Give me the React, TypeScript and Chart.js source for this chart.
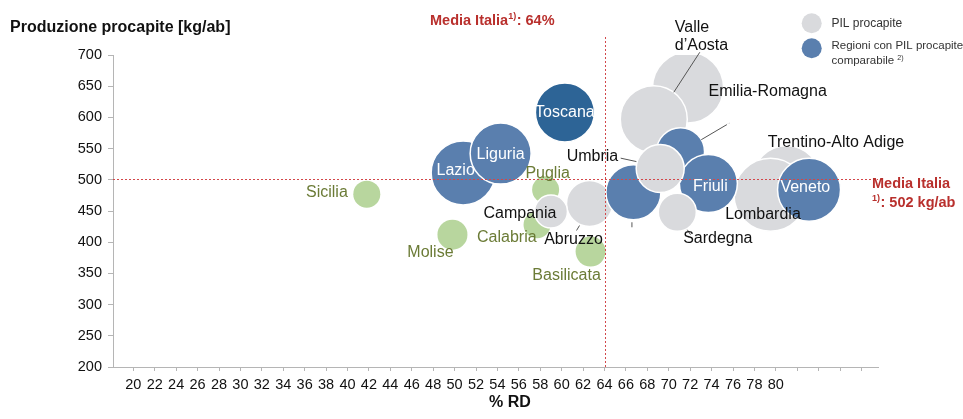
import React, { useEffect, useRef } from "react";
import { Chart, registerables } from "chart.js";

Chart.register(...registerables);

// ---------- DATA ----------
const regions = [
  "Sicilia", "Molise", "Calabria", "Puglia", "Basilicata",
  "Emilia-Romagna", "Valle d'Aosta", "Trentino-Alto Adige", "Lombardia",
  "Lazio", "Liguria", "Toscana", "Abruzzo", "Campania", "Piemonte",
  "Marche", "Friuli", "Umbria", "Sardegna", "Veneto",
];
// % raccolta differenziata
const rdPercent = [
  41.8, 49.8, 57.7, 58.5, 62.7,
  71.8, 68.6, 81.0, 79.5,
  50.8, 54.3, 60.3, 62.6, 59.0, 66.7,
  71.1, 73.7, 69.2, 70.8, 83.1,
];
// produzione procapite kg/ab
const kgPerInhabitant = [
  477, 412, 428, 484, 385,
  648, 597, 500, 476,
  511, 542, 608, 462, 449, 480,
  545, 494, 518, 448, 484,
];
// bubble size (PIL procapite)
const bubbleSize = [
  13.5, 15, 13.5, 13.5, 15,
  35.5, 33.5, 34, 36.5,
  32, 30.5, 29.5, 23, 16.5, 27.5,
  24, 29, 24, 19, 31.5,
];
// group: 0 = low RD (green), 1 = PIL procapite (grey), 2 = comparable (blue), 3 = Toscana
const regionGroup = [
  0, 0, 0, 0, 0,
  1, 1, 1, 1,
  2, 2, 3, 1, 1, 2,
  2, 2, 1, 1, 2,
];
const xTickValues = [20, 22, 24, 26, 28, 30, 32, 34, 36, 38, 40, 42, 44, 46, 48, 50, 52, 54, 56, 58, 60, 62, 64, 66, 68, 70, 72, 74, 76, 78, 80, 82, 84, 86, 88];
const xTickLabels = [20, 22, 24, 26, 28, 30, 32, 34, 36, 38, 40, 42, 44, 46, 48, 50, 52, 54, 56, 58, 60, 62, 64, 66, 68, 70, 72, 74, 76, 78, 80];
const yTickValues = [200, 250, 300, 350, 400, 450, 500, 550, 600, 650, 700];
const mediaRD = 64;
const mediaKg = 502;

// ---------- STYLE ----------
const FONT = "'Liberation Sans', Arial, Helvetica, sans-serif";
const RED = "#b9302d";
const LINE_RED = "#d2474a";
const GREY = "#d9dadd";
const BLUE = "#5a7fae";
const DARKBLUE = "#2d6496";
const GREEN = "#b8d69e";
const OLIVE = "#6b7b36";
const groupFill = [GREEN, GREY, BLUE, DARKBLUE];
const groupText = [OLIVE, "#111111", "#ffffff", "#ffffff"];

type LabelSpec = {
  dx: number; dy: number; align: CanvasTextAlign;
  lines?: string[]; lineGap?: number;
  leader?: [number, number, number, number];
};
const labelLayout: Record<string, LabelSpec> = {
  "Sicilia": { dx: -19, dy: -2, align: "right" },
  "Molise": { dx: -22, dy: 17.5, align: "center" },
  "Calabria": { dx: -60, dy: 13, align: "left" },
  "Puglia": { dx: 2, dy: -16, align: "center" },
  "Basilicata": { dx: -24, dy: 24, align: "center" },
  "Campania": { dx: -31, dy: 1.5, align: "center" },
  "Abruzzo": { dx: -16, dy: 36, align: "center", leader: [-13, 27, -10, 22] },
  "Valle d'Aosta": { dx: 21, dy: -92, align: "left", lines: ["Valle", "d\u2019Aosta"], lineGap: 18.5, leader: [46, -67, 20, -27] },
  "Emilia-Romagna": { dx: 20.5, dy: 4.5, align: "left" },
  "Marche": { dx: 40.7, dy: -30.3, align: "left", leader: [49, -28.7, 20.7, -12] },
  "Umbria": { dx: -42, dy: -12, align: "right", leader: [-39.5, -10.4, -23.8, -7] },
  "Piemonte": { dx: 12.5, dy: 43.3, align: "center", leader: [-1.5, 30, -1.5, 35] },
  "Sardegna": { dx: 40.5, dy: 26.5, align: "center", leader: [10, 17.5, 13.2, 22.5] },
  "Lombardia": { dx: -7.5, dy: 20, align: "center" },
  "Trentino-Alto Adige": { dx: -18.7, dy: -37, align: "left" },
  "Lazio": { dx: -7.5, dy: -2.5, align: "center" },
  "Liguria": { dx: 0, dy: 1, align: "center" },
  "Toscana": { dx: 0, dy: 0, align: "center" },
  "Friuli": { dx: 2, dy: 3, align: "center" },
  "Veneto": { dx: -3.7, dy: -2, align: "center" },
};

function drawSup(ctx: CanvasRenderingContext2D, parts: { t: string; sup?: boolean }[], x: number, y: number, size: number, bold: boolean, color: string) {
  let cx = x;
  ctx.fillStyle = color;
  ctx.textAlign = "left";
  ctx.textBaseline = "middle";
  for (const p of parts) {
    const s = p.sup ? size * 0.62 : size;
    ctx.font = `${bold ? "bold " : ""}${s}px ${FONT}`;
    ctx.fillText(p.t, cx, p.sup ? y - size * 0.3 : y);
    cx += ctx.measureText(p.t).width + (p.sup ? 0.5 : 0);
  }
}

const annotationPlugin = {
  id: "annotationPlugin",
  afterDatasetsDraw(chart: any) {
    const { ctx, chartArea, scales } = chart;
    const xs = scales.x;
    const ys = scales.y;
    // reference lines
    ctx.save();
    ctx.strokeStyle = LINE_RED;
    ctx.lineWidth = 1;
    ctx.setLineDash([2, 2]);
    const vx = Math.round(xs.getPixelForValue(mediaRD)) + 0.5;
    ctx.beginPath();
    ctx.moveTo(vx, 37);
    ctx.lineTo(vx, chartArea.bottom);
    ctx.stroke();
    const hy = Math.round(ys.getPixelForValue(mediaKg)) + 0.5;
    ctx.beginPath();
    ctx.moveTo(chartArea.left, hy);
    ctx.lineTo(chartArea.right, hy);
    ctx.stroke();
    ctx.restore();

    // bubble labels
    const meta = chart.getDatasetMeta(0);
    ctx.save();
    meta.data.forEach((el: any, i: number) => {
      const name = regions[i];
      const spec = labelLayout[name];
      if (!spec) return;
      const { x, y } = el.getProps(["x", "y"], true);
      if (spec.leader) {
        ctx.strokeStyle = "#555";
        ctx.lineWidth = 1;
        ctx.beginPath();
        ctx.moveTo(x + spec.leader[0], y + spec.leader[1]);
        ctx.lineTo(x + spec.leader[2], y + spec.leader[3]);
        ctx.stroke();
      }
      ctx.font = `16px ${FONT}`;
      ctx.fillStyle = groupText[regionGroup[i]];
      ctx.textAlign = spec.align;
      ctx.textBaseline = "middle";
      const lines = spec.lines || [name];
      lines.forEach((ln, k) => {
        ctx.fillText(ln, x + spec.dx, y + spec.dy + k * (spec.lineGap || 18));
      });
    });
    ctx.restore();
  },
  afterDraw(chart: any) {
    const { ctx } = chart;
    ctx.save();
    // axis titles
    ctx.fillStyle = "#111";
    ctx.font = `bold 16px ${FONT}`;
    ctx.textBaseline = "middle";
    ctx.textAlign = "left";
    ctx.fillText("Produzione procapite [kg/ab]", 10, 28);
    ctx.textAlign = "center";
    ctx.fillText("% RD", 510, 403);

    // media annotations
    drawSup(ctx, [{ t: "Media Italia" }, { t: "1)", sup: true }, { t: ": 64%" }], 430, 21, 14.5, true, RED);
    drawSup(ctx, [{ t: "Media Italia" }], 872, 184, 14.5, true, RED);
    drawSup(ctx, [{ t: "1)", sup: true }, { t: ": 502 kg/ab" }], 872, 203, 14.5, true, RED);

    // legend
    ctx.fillStyle = GREY;
    ctx.beginPath();
    ctx.arc(811.7, 23.3, 10, 0, Math.PI * 2);
    ctx.fill();
    ctx.fillStyle = BLUE;
    ctx.beginPath();
    ctx.arc(811.7, 48.3, 10, 0, Math.PI * 2);
    ctx.fill();
    drawSup(ctx, [{ t: "PIL procapite" }], 831.5, 23.5, 12, false, "#333");
    drawSup(ctx, [{ t: "Regioni con PIL procapite" }], 831.5, 46, 11.5, false, "#333");
    drawSup(ctx, [{ t: "comparabile " }, { t: "2)", sup: true }], 831.5, 61, 11.5, false, "#333");
    ctx.restore();
  },
};

export default function App() {
  const canvasRef = useRef<HTMLCanvasElement | null>(null);

  useEffect(() => {
    if (!canvasRef.current) return;
    const points = regions.map((_, i) => ({ x: rdPercent[i], y: kgPerInhabitant[i], r: bubbleSize[i] }));
    const chart = new Chart(canvasRef.current, {
      type: "bubble",
      data: {
        datasets: [
          {
            label: "Regioni",
            data: points,
            backgroundColor: regionGroup.map((g) => groupFill[g]),
            borderColor: regionGroup.map((g) => (g === 0 ? groupFill[g] : "#ffffff")),
            borderWidth: regionGroup.map((g) => (g === 0 ? 0 : 1.5)),
          },
        ],
      },
      options: {
        animation: false,
        responsive: true,
        maintainAspectRatio: false,
        events: [],
        layout: { padding: { left: 0, right: 85, top: 55, bottom: 0 } },
        plugins: {
          legend: { display: false },
          tooltip: { enabled: false },
          title: { display: false },
        },
        scales: {
          x: {
            type: "linear",
            min: 18.1,
            max: 89.54,
            afterBuildTicks: (s: any) => {
              s.ticks = xTickValues.map((v) => ({ value: v }));
            },
            afterFit: (s: any) => {
              s.height = 52;
            },
            ticks: {
              autoSkip: false,
              maxRotation: 0,
              minRotation: 0,
              padding: 5,
              color: "#111",
              font: { family: FONT, size: 14.5 },
              callback: (v: any) => (xTickLabels.includes(Number(v)) ? String(v) : ""),
            },
            grid: { display: true, drawOnChartArea: false, drawTicks: true, tickLength: 4, color: "#b5b5b5" },
            border: { display: true, color: "#b5b5b5", width: 1 },
          },
          y: {
            type: "linear",
            min: 200,
            max: 700,
            afterBuildTicks: (s: any) => {
              s.ticks = yTickValues.map((v) => ({ value: v }));
            },
            afterFit: (s: any) => {
              s.width = 113;
            },
            ticks: {
              padding: 6,
              color: "#111",
              font: { family: FONT, size: 14.5 },
            },
            grid: { display: true, drawOnChartArea: false, drawTicks: true, tickLength: 5, color: "#b5b5b5" },
            border: { display: true, color: "#b5b5b5", width: 1 },
          },
        },
      },
      plugins: [annotationPlugin],
    });
    return () => chart.destroy();
  }, []);

  return (
    <div style={{ position: "fixed", left: 0, top: 0, width: 963, height: 419, background: "#fff" }}>
      <canvas ref={canvasRef} />
    </div>
  );
}
